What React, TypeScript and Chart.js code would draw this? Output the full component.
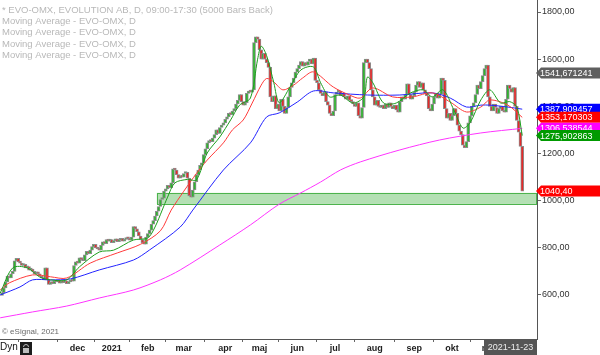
import React, { useEffect, useRef } from 'react';
import { Chart, registerables } from 'chart.js';

Chart.register(...registerables);

// ---------- DATA ----------
// daily closes (bar index 0..289)
const closes: number[] = [
  610, 630, 655, 680, 672, 690, 700, 745, 755, 740,
  735, 725, 730, 715, 720, 705, 710, 700, 690, 695,
  690, 680, 672, 665, 715, 664, 645, 655, 648, 660,
  655, 662, 650, 658, 652, 660, 648, 655, 660, 658,
  725, 740, 735, 757, 750, 745, 770, 785, 775, 790,
  805, 815, 800, 795, 790, 810, 825, 818, 835, 828,
  835, 822, 830, 838, 826, 832, 840, 828, 835, 840,
  838, 832, 845, 890, 880, 868, 850, 835, 822, 815,
  845, 860, 875, 900, 915, 935, 955, 975, 1005, 1010,
  1040, 1050, 1065, 1055, 1075, 1135, 1130, 1110, 1095, 1105,
  1100, 1115, 1120, 1095, 1020, 1015, 1045, 1080, 1110, 1130,
  1150, 1160, 1195, 1220, 1245, 1255, 1250, 1265, 1280, 1300,
  1285, 1310, 1320, 1330, 1345, 1355, 1370, 1365, 1380, 1390,
  1410, 1425, 1450, 1420, 1405, 1415, 1455, 1465, 1460, 1470,
  1670, 1695, 1685, 1640, 1600, 1625, 1600, 1585, 1565, 1440,
  1420, 1445, 1390, 1410, 1380, 1430, 1400, 1370, 1395, 1440,
  1480, 1500, 1520, 1545, 1560, 1575, 1590, 1570, 1585, 1575,
  1590, 1600, 1580, 1605, 1510, 1500, 1470, 1455, 1445, 1460,
  1420, 1405, 1370, 1360, 1380, 1450, 1460, 1465, 1445, 1455,
  1440, 1430, 1445, 1425, 1420, 1410, 1400, 1415, 1360, 1350,
  1395, 1585, 1600, 1585, 1560, 1470, 1440, 1405, 1425, 1400,
  1395, 1405, 1390, 1410, 1395, 1415, 1400, 1390, 1405, 1385,
  1375, 1420, 1440, 1430, 1450, 1495, 1450, 1430, 1445, 1460,
  1490, 1505, 1480, 1500, 1470, 1455, 1445, 1390, 1380, 1410,
  1440, 1455, 1435, 1450, 1520, 1510, 1390, 1350, 1370, 1340,
  1360, 1390, 1370, 1320, 1295, 1280, 1235, 1225, 1250, 1330,
  1360, 1400, 1415, 1450, 1490, 1475, 1505, 1530, 1560, 1575,
  1440, 1400, 1380, 1410, 1395, 1370, 1390, 1400, 1380, 1375,
  1430, 1490, 1475, 1460, 1480, 1400, 1340, 1290, 1230, 1040,
];
const firstOpen = 598;

// moving averages (bar index -> value)
const maFastIdx = [-1, 6, 14, 21, 27, 36, 43, 54, 62, 73, 81, 85, 89, 92, 96, 103, 108, 114, 121, 127, 132, 138, 142, 144, 147, 151, 154, 160, 166, 173, 177, 182, 188, 195, 201, 203, 206, 212, 219, 227, 234, 239, 245, 251, 256, 260, 266, 271, 277, 282, 286, 289];
const maFastVal = [608, 715, 715, 676, 664, 664, 719, 782, 790, 833, 842, 888, 960, 1015, 1075, 1090, 1088, 1202, 1270, 1342, 1405, 1435, 1600, 1655, 1615, 1500, 1415, 1482, 1554, 1567, 1500, 1440, 1448, 1414, 1440, 1524, 1500, 1414, 1414, 1457, 1470, 1440, 1470, 1385, 1308, 1330, 1427, 1470, 1414, 1420, 1397, 1275.9];

const maMidIdx = [-1, 4, 17, 27, 36, 49, 64, 77, 88, 94, 101, 108, 114, 123, 128, 134, 139, 144, 147, 151, 156, 162, 167, 173, 184, 193, 199, 206, 217, 228, 239, 249, 258, 266, 271, 281, 289];
const maMidVal = [621, 651, 685, 677, 672, 735, 778, 815, 872, 960, 1040, 1115, 1172, 1245, 1300, 1342, 1414, 1490, 1518, 1503, 1470, 1490, 1520, 1546, 1482, 1448, 1435, 1478, 1440, 1440, 1457, 1418, 1376, 1397, 1427, 1405, 1353.17];

const maSlowIdx = [-1, 10, 17, 27, 38, 54, 73, 82, 99, 106, 123, 138, 147, 154, 164, 173, 184, 203, 221, 239, 249, 258, 266, 271, 281, 289];
const maSlowVal = [600, 634, 664, 664, 668, 706, 748, 791, 888, 960, 1130, 1245, 1355, 1372, 1418, 1465, 1457, 1448, 1448, 1457, 1435, 1397, 1405, 1405, 1397, 1387.9];

const maLongIdx = [-1, 17, 36, 54, 73, 88, 99, 121, 138, 154, 166, 177, 188, 199, 221, 243, 266, 289];
const maLongVal = [503, 528, 553, 587, 621, 664, 706, 812, 897, 985, 1033, 1079, 1130, 1164, 1215, 1257, 1287, 1306.54];

// x-axis month ticks (bar index)
const monthIdx = [20, 42, 61, 81, 101, 124, 143, 164, 185, 207, 229, 250, 271];
const monthLabels = ['', 'dec', '2021', 'feb', 'mar', 'apr', 'maj', 'jun', 'jul', 'aug', 'sep', 'okt', 'nov'];

// y-axis ticks
const yTicks = [600, 800, 1000, 1200, 1400, 1600, 1800];

// support zone
const zoneLow = 986;
const zoneHigh = 1033;
const zoneStartIdx = 86;

// right-hand price tags
const tagValues = [1541.671241, 1387.909457, 1353.170303, 1306.538544, 1275.902863, 1040.4];
const tagTexts = ['1541,671241', '1387,909457', '1353,170303', '1306,538544', '1275,902863', '1040,40'];
const tagColors = ['#5f5f5f', '#0000ff', '#ff0000', '#ff00ff', '#009a00', '#ff0000'];

const legendLines = [
  '* EVO-OMX, EVOLUTION AB, D, 09:00-17:30 (5000 Bars Back)',
  'Moving Average - EVO-OMX, D',
  'Moving Average - EVO-OMX, D',
  'Moving Average - EVO-OMX, D',
  'Moving Average - EVO-OMX, D',
];
const lastDateLabel = '2021-11-23';

const FONT = '"Liberation Sans", Arial, sans-serif';

function toPoints(idx: number[], val: number[]) {
  return idx.map((x, k) => ({ x, y: val[k] }));
}

export default function App() {
  const ref = useRef<HTMLCanvasElement | null>(null);

  useEffect(() => {
    document.body.style.margin = '0';
    const canvas = ref.current;
    if (!canvas) return;

    const opens = closes.map((c, i) => (i === 0 ? firstOpen : closes[i - 1]));
    const candles = closes.map((c, i) => ({ x: i, y: [opens[i], c] }));

    const zonePlugin = {
      id: 'zone',
      beforeDatasetsDraw(chart: any) {
        const { ctx, chartArea, scales } = chart;
        const x0 = scales.x.getPixelForValue(zoneStartIdx);
        const yTop = scales.y.getPixelForValue(zoneHigh);
        const yBot = scales.y.getPixelForValue(zoneLow);
        ctx.save();
        ctx.fillStyle = '#b4e0b4';
        ctx.fillRect(x0, yTop, chartArea.right - x0, yBot - yTop);
        ctx.strokeStyle = '#4db34d';
        ctx.lineWidth = 1;
        ctx.strokeRect(Math.round(x0) + 0.5, Math.round(yTop) + 0.5, chartArea.right - Math.round(x0) - 1, Math.round(yBot - yTop));
        ctx.restore();
      },
    };

    const overlayPlugin = {
      id: 'overlay',
      afterDraw(chart: any) {
        const { ctx, chartArea, scales } = chart;
        ctx.save();
        // legend
        ctx.font = `9.5px ${FONT}`;
        ctx.fillStyle = '#b8b8b8';
        ctx.textAlign = 'left';
        ctx.textBaseline = 'middle';
        legendLines.forEach((t, k) => ctx.fillText(t, 2, 10 + k * 11.4));
        // copyright
        ctx.font = `8px ${FONT}`;
        ctx.fillStyle = '#6a6a6a';
        ctx.fillText('© eSignal, 2021', 2, 332);
        // price tags
        ctx.font = `9px ${FONT}`;
        tagValues.forEach((v, k) => {
          const py = scales.y.getPixelForValue(v);
          const left = chartArea.right - 1;
          ctx.fillStyle = tagColors[k];
          ctx.beginPath();
          ctx.moveTo(left, py);
          ctx.lineTo(left + 5, py - 5.5);
          ctx.lineTo(600, py - 5.5);
          ctx.lineTo(600, py + 5.5);
          ctx.lineTo(left + 5, py + 5.5);
          ctx.closePath();
          ctx.fill();
          ctx.fillStyle = '#ffffff';
          ctx.textAlign = 'left';
          ctx.fillText(tagTexts[k], left + 4, py + 0.5);
        });
        // Dyn + icon
        ctx.font = `10px ${FONT}`;
        ctx.fillStyle = '#111';
        ctx.textAlign = 'left';
        ctx.fillText('Dyn', 0, 347);
        ctx.fillStyle = '#1c1c1c';
        ctx.fillRect(20, 342, 12, 13);
        ctx.strokeStyle = '#bdbdbd';
        ctx.lineWidth = 1;
        ctx.beginPath();
        ctx.arc(26, 347, 2.5, Math.PI, 0);
        ctx.stroke();
        ctx.fillStyle = '#bdbdbd';
        ctx.fillRect(23, 348, 6, 5);
        // date box
        ctx.fillStyle = '#555555';
        ctx.fillRect(484, chartArea.bottom + 1, chartArea.right - 484, 355 - chartArea.bottom - 1);
        ctx.fillStyle = '#eeeeee';
        ctx.font = `9px ${FONT}`;
        ctx.textAlign = 'center';
        ctx.fillText(lastDateLabel, (484 + chartArea.right) / 2, 347.5);
        ctx.restore();
      },
    };

    const chart = new Chart(canvas, {
      type: 'bar',
      data: {
        datasets: [
          {
            type: 'bar',
            data: candles as any,
            backgroundColor: (c: any) => {
              const r = c.raw;
              return r && r.y[1] >= r.y[0] ? '#2fb52f' : '#e52a2a';
            },
            borderColor: '#8d8d8d',
            borderWidth: 1,
            borderSkipped: false,
            barThickness: 3,
            minBarLength: 2,
            grouped: false,
            order: 5,
          } as any,
          {
            type: 'line',
            data: toPoints(maLongIdx, maLongVal),
            borderColor: '#ff33ff',
            borderWidth: 1,
            pointRadius: 0,
            tension: 0.3,
            order: 4,
          } as any,
          {
            type: 'line',
            data: toPoints(maSlowIdx, maSlowVal),
            borderColor: '#2323ff',
            borderWidth: 1,
            pointRadius: 0,
            tension: 0.3,
            order: 3,
          } as any,
          {
            type: 'line',
            data: toPoints(maMidIdx, maMidVal),
            borderColor: '#ff3a3a',
            borderWidth: 1,
            pointRadius: 0,
            tension: 0.3,
            order: 2,
          } as any,
          {
            type: 'line',
            data: toPoints(maFastIdx, maFastVal),
            borderColor: '#1d9e1d',
            borderWidth: 1,
            pointRadius: 0,
            tension: 0.3,
            order: 1,
          } as any,
        ],
      },
      options: {
        responsive: false,
        maintainAspectRatio: false,
        animation: false,
        layout: { padding: 0 },
        plugins: { legend: { display: false }, tooltip: { enabled: false } },
        scales: {
          x: {
            type: 'linear',
            min: -1.11,
            max: 297.2,
            offset: false,
            grid: { display: true, drawOnChartArea: false, drawTicks: true, tickLength: 3, color: '#666' },
            border: { display: true, color: '#555' },
            ticks: {
              autoSkip: false,
              maxRotation: 0,
              padding: 1,
              color: '#222',
              font: { family: FONT, size: 9, weight: 'bold' },
              callback: (_v: any, i: number) => monthLabels[i],
            },
            afterBuildTicks: (s: any) => {
              s.ticks = monthIdx.map((v) => ({ value: v }));
            },
            afterFit: (s: any) => {
              s.height = 16;
              s.paddingLeft = 0;
              s.paddingRight = 0;
            },
          } as any,
          y: {
            position: 'right',
            min: 413.2,
            max: 1850.9,
            grid: { display: true, drawOnChartArea: false, drawTicks: true, tickLength: 4, color: '#666' },
            border: { display: true, color: '#555' },
            ticks: {
              padding: 1,
              color: '#333',
              font: { family: FONT, size: 9 },
              callback: (v: any) => Number(v).toFixed(2).replace('.', ','),
            },
            afterBuildTicks: (s: any) => {
              s.ticks = yTicks.map((v) => ({ value: v }));
            },
            afterFit: (s: any) => {
              s.width = 63;
              s.paddingTop = 0;
              s.paddingBottom = 0;
            },
          } as any,
        },
      },
      plugins: [zonePlugin, overlayPlugin],
    });

    return () => chart.destroy();
  }, []);

  return (
    <div style={{ width: 600, height: 355, position: 'relative', background: '#fff' }}>
      <canvas ref={ref} width={600} height={355} style={{ display: 'block' }} />
    </div>
  );
}
